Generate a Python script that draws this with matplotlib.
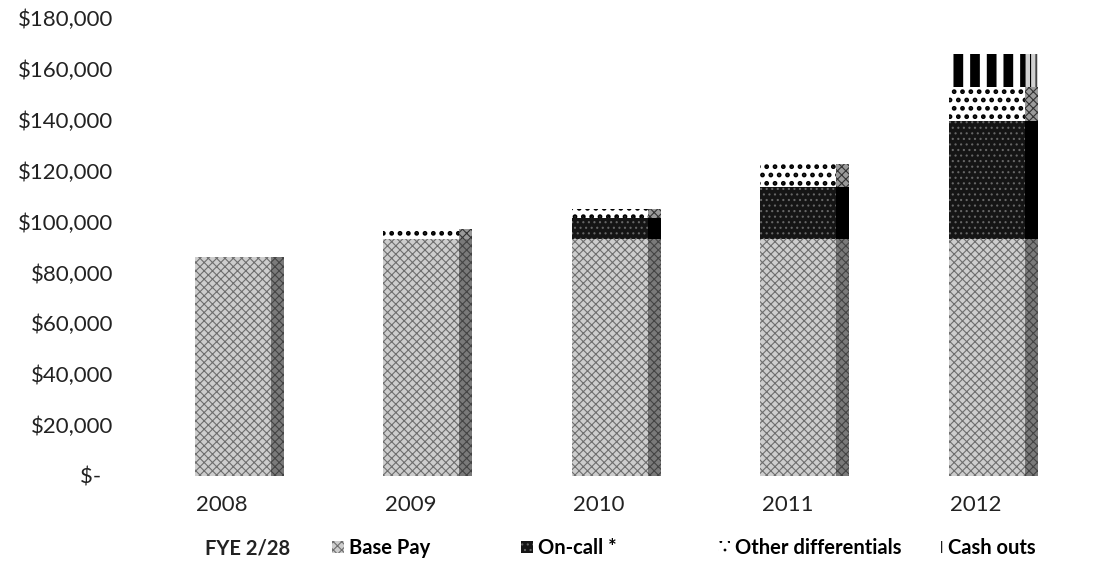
import matplotlib.pyplot as plt
import numpy as np
from matplotlib.patches import Patch

years = ['2008', '2009', '2010', '2011', '2012']
base_pay = [86000, 93000, 93000, 93000, 93000]
on_call = [0, 0, 8500, 20800, 46400]
other_diff = [0, 4000, 3600, 8700, 13400]
cash_outs = [0, 0, 0, 0, 13300]

plt.rcParams['font.family'] = ['Lato', 'DejaVu Sans']
plt.rcParams['hatch.linewidth'] = 0.8

fig = plt.figure(figsize=(10.95, 5.68), dpi=100)
ax = fig.add_axes([0.1096, 0.162, 0.8767, 0.806])

x = np.arange(len(years))
w = 0.403     # front face
sw = 0.069    # side face
off = 0.058   # bars sit a little right of their labels

base_style = dict(facecolor='#cdcdcd', edgecolor='#6e6e6e', hatch='xxxx')
oncall_style = dict(facecolor='#151515', edgecolor='#666666', hatch='...')
other_style = dict(facecolor='white', edgecolor='black', hatch='..')
cash_style = dict(facecolor='white', edgecolor='black', hatch='|')
hatch_lw = {'..': 2.2, '|': 7}

series = [
    (base_pay, base_style, dict(facecolor='#7a7a7a', edgecolor='#444444', hatch='xxxx')),
    (on_call, oncall_style, dict(facecolor='#000000', edgecolor='#000000', hatch=None)),
    (other_diff, other_style, dict(facecolor='#9a9a9a', edgecolor='#333333', hatch='xxxx')),
    (cash_outs, cash_style, dict(facecolor='#d0d0d0', edgecolor='black', hatch='|||')),
]


def thicken(patches, hatch):
    if hatch in hatch_lw:
        for p in patches:
            try:
                p.set_hatch_linewidth(hatch_lw[hatch])
            except AttributeError:
                pass


bottom = np.zeros(len(years))
for vals, front, side in series:
    vals = np.array(vals, dtype=float)
    fb = ax.bar(x + off, vals, width=w, bottom=bottom, linewidth=0, **front)
    thicken(fb, front['hatch'])
    ax.bar(x + off + w / 2 + sw / 2, vals, width=sw, bottom=bottom, linewidth=0, **side)
    bottom += vals

ax.set_ylim(0, 180000)
ax.set_xlim(-0.541, 4.552)
yt = np.arange(0, 180001, 20000)
ax.set_yticks(yt)
ax.set_yticklabels(['$-  ' if v == 0 else f'${v:,.0f}' for v in yt], fontsize=16, color='#222222')
ax.set_xticks(x)
ax.set_xticklabels(years, fontsize=16, color='#222222')
ax.tick_params(length=0)
ax.tick_params(axis='x', pad=14)
ax.tick_params(axis='y', pad=5)
for s in ax.spines.values():
    s.set_visible(False)

fig.text(205 / 1095, 0.035, 'FYE 2/28', fontsize=14.5, fontweight='bold', color='#222222', va='center')

labels = ['Base Pay', 'On-call *', 'Other differentials', 'Cash outs']
styles = [base_style, oncall_style, other_style, cash_style]
marker_x = [332, 521, 718, 931]
for lab, st, mx in zip(labels, styles, marker_x):
    h = Patch(linewidth=0, **st)
    fig.legend([h], [lab], loc='center left', bbox_to_anchor=(mx / 1095, 0.035),
               frameon=False, prop={'size': 14.5, 'weight': 'bold'}, handlelength=0.6,
               handleheight=0.6, handletextpad=0.25, borderpad=0, borderaxespad=0)

fig.savefig('out.png', dpi=100)
